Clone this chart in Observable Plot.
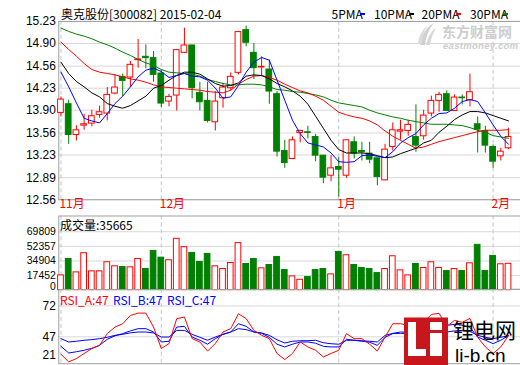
<!DOCTYPE html>
<html><head><meta charset="utf-8">
<script src="https://cdn.jsdelivr.net/npm/d3@7"></script>
<script src="https://cdn.jsdelivr.net/npm/@observablehq/plot@0.6"></script>
<style>
body{margin:0;background:#fff;}
#wrap{position:relative;width:520px;height:365px;overflow:hidden;font-family:"Noto Sans CJK SC","Noto Sans",sans-serif;background:#fff;}
#wrap > svg{position:absolute;left:0;overflow:visible;}
.t{position:absolute;font-size:12px;line-height:12px;white-space:nowrap;color:#000;}
.dash{position:absolute;width:5px;height:2px;}
</style></head><body><div id="wrap"></div>
<script>
const dates = ["2014-11-12","2014-11-13","2014-11-14","2014-11-17","2014-11-18","2014-11-19","2014-11-20","2014-11-21","2014-11-24","2014-11-25","2014-11-26","2014-11-27","2014-11-28","2014-12-01","2014-12-02","2014-12-03","2014-12-04","2014-12-05","2014-12-08","2014-12-09","2014-12-10","2014-12-11","2014-12-12","2014-12-15","2014-12-16","2014-12-17","2014-12-18","2014-12-19","2014-12-22","2014-12-23","2014-12-24","2014-12-25","2014-12-26","2014-12-29","2014-12-30","2014-12-31","2015-01-05","2015-01-06","2015-01-07","2015-01-08","2015-01-09","2015-01-12","2015-01-13","2015-01-14","2015-01-15","2015-01-16","2015-01-19","2015-01-20","2015-01-21","2015-01-22","2015-01-23","2015-01-26","2015-01-27","2015-01-28","2015-01-29","2015-01-30","2015-02-02","2015-02-03","2015-02-04"];
const open = [13.86,13.99,13.53,13.67,13.70,13.83,13.85,14.15,14.40,14.39, 14.65,14.70,14.68,14.45,14.03,14.12,14.76,14.87,14.16,14.04, 13.72,14.08,14.23,14.46,15.10,14.76,14.54,14.51,14.14,13.29, 13.17,13.56,13.57,13.50,13.22,12.92,13.05,12.92,13.42,13.29, 13.25,13.18,12.85,13.35,13.58,13.59,13.50,13.51,13.85,14.04, 14.14,13.89,14.09,14.05,13.69,13.59,13.35,13.21,13.33];
const high = [14.10,14.05,13.67,13.84,13.90,13.96,14.24,14.43,14.44,14.63, 14.96,14.88,14.78,14.50,14.14,14.81,15.13,14.87,14.32,14.32, 14.18,14.30,14.46,15.08,15.16,14.90,14.70,14.65,14.18,13.45, 13.50,13.60,13.66,13.54,13.22,13.22,13.19,13.45,13.50,13.42, 13.42,13.18,13.39,13.71,13.75,13.75,13.98,13.90,14.11,14.17, 14.19,14.13,14.13,14.44,13.80,13.66,13.38,13.33,13.63];
const low = [13.80,13.39,13.44,13.60,13.65,13.78,13.74,14.13,14.10,14.24, 14.53,14.52,14.32,13.94,13.95,13.89,14.75,14.07,13.89,13.71, 13.59,13.93,14.19,14.43,14.85,14.36,14.40,13.99,13.20,13.03, 13.16,13.41,13.47,13.13,12.80,12.83,12.60,12.88,13.17,13.14, 13.10,12.77,12.85,13.29,13.45,13.51,13.27,13.45,13.80,13.87, 13.88,13.88,13.98,13.95,13.26,13.26,13.03,13.14,13.31];
const close = [14.06,13.53,13.60,13.69,13.81,13.87,14.13,14.24,14.34,14.58, 14.66,14.68,14.43,14.00,14.10,14.80,14.87,14.23,14.02,13.74, 14.03,14.24,14.40,15.07,14.91,14.53,14.55,14.18,13.28,13.11, 13.45,13.59,13.56,13.22,12.89,13.03,13.01,13.45,13.25,13.27, 13.16,12.90,13.31,13.60,13.60,13.68,13.37,13.82,14.04,14.13, 13.89,14.09,14.08,14.17,13.61,13.37,13.13,13.28,13.50];
const ma5 = [14.47,14.25,14.01,13.78,13.74,13.71,13.85,14.00,14.11,14.25, 14.40,14.50,14.53,14.48,14.39,14.42,14.45,14.41,14.40,14.35, 14.23,14.08,14.10,14.27,14.47,14.62,14.69,14.65,14.35,14.05, 13.75,13.55,13.41,13.38,13.35,13.26,13.13,13.12,13.13,13.22, 13.23,13.21,13.19,13.28,13.41,13.49,13.55,13.68,13.78,13.85, 13.86,13.93,14.03,14.06,14.03,13.86,13.68,13.51,13.39];
const ma10 = [14.62,14.45,14.33,14.25,14.16,14.10,14.00,13.96,13.93,13.97, 14.04,14.11,14.23,14.27,14.35,14.42,14.47,14.47,14.44,14.37, 14.30,14.26,14.27,14.31,14.41,14.43,14.42,14.37,14.30,14.25, 14.19,14.11,13.99,13.81,13.63,13.45,13.31,13.26,13.26,13.26, 13.25,13.22,13.19,13.20,13.25,13.29,13.33,13.41,13.45,13.57, 13.66,13.76,13.83,13.88,13.88,13.86,13.82,13.78,13.74];
const ma20 = [14.92,14.81,14.71,14.60,14.51,14.47,14.45,14.43,14.40,14.37, 14.35,14.32,14.28,14.25,14.24,14.23,14.22,14.21,14.20,14.18, 14.17,14.16,14.20,14.29,14.36,14.41,14.42,14.39,14.35,14.29, 14.24,14.19,14.16,14.11,14.05,13.96,13.87,13.83,13.80,13.78, 13.74,13.68,13.59,13.51,13.45,13.39,13.33,13.35,13.39,13.43, 13.46,13.49,13.52,13.55,13.58,13.60,13.60,13.60,13.61];
const ma30 = [15.13,15.08,15.04,15.01,14.97,14.92,14.88,14.83,14.77,14.72, 14.66,14.61,14.57,14.51,14.47,14.46,14.45,14.44,14.41,14.36, 14.33,14.30,14.28,14.28,14.29,14.29,14.28,14.25,14.21,14.20, 14.18,14.17,14.15,14.13,14.10,14.05,14.01,13.99,13.97,13.95, 13.90,13.86,13.83,13.80,13.78,13.75,13.73,13.71,13.69,13.69, 13.69,13.68,13.67,13.64,13.60,13.57,13.52,13.50,13.48];
const volume = [17690,37310,21300,44170,22500,22500,33340,28530,27680,27320, 37310,25280,46940,38880,35750,61380,51390,44530,33700,43330, 28530,25280,32500,56210,31290,37310,26120,30090,39720,24070, 16490,12400,15650,24070,25280,18900,45740,41770,30090,26480, 25280,20460,25280,40560,23710,17690,31290,26480,33340,26480, 22870,25280,22870,32140,54160,22870,40920,30930,31500];
const rsiA = [32.9,26.7,29.4,33.5,37.5,40.1,49.6,54.9,57.6,64.3, 66.2,66.2,54.9,37.5,41.5,61.7,63.0,45.5,42.8,35.5, 41.5,50.9,53.6,65.7,61.7,52.2,48.2,45.5,33.5,28.6, 33.5,42.8,38.8,36.1,30.7,33.5,36.1,49.6,45.5,45.5, 41.0,35.5,46.8,57.6,57.6,56.3,49.0,58.7,65.1,66.0, 55.5,60.3,58.7,61.9,46.6,38.8,33.5,38.8,48.0];
const rsiB = [39.3,33.9,34.9,36.1,37.7,40.1,45.0,47.8,49.6,51.8, 53.6,53.6,50.9,42.8,43.4,54.9,55.5,46.8,44.2,41.0, 45.5,49.0,50.9,57.6,55.5,50.9,49.8,46.6,41.0,38.8, 41.0,42.8,42.8,41.8,39.3,38.8,38.8,45.0,44.2,43.4, 42.6,40.1,46.6,49.6,49.8,49.8,49.8,53.9,56.3,57.1, 56.3,57.1,56.3,54.7,46.8,44.2,41.5,44.2,48.0];
const rsiC = [45.5,42.8,43.4,44.2,44.7,45.5,46.6,48.2,49.0,50.2, 50.9,50.9,50.1,46.8,46.8,52.2,52.2,49.0,46.6,44.2, 46.8,49.0,50.9,53.6,52.8,50.9,50.1,48.2,44.6,42.0, 43.4,43.8,43.9,44.2,42.2,41.4,41.0,44.2,44.2,43.8, 43.4,42.8,48.2,49.8,50.9,50.6,50.6,51.0,51.4,51.8, 50.9,51.8,52.2,51.4,48.2,46.6,45.5,46.6,48.0];
const priceTicks = [12.56,12.89,13.23,13.56,13.90,14.23,14.56,14.90,15.23];
const volTicks = [17452,34904,52357,69809];
const rsiTicks = [47,72];
const monthStarts = ["2014-11-12","2014-12-01","2015-01-05","2015-02-02"];
const monthLabels = ["11月","12月","1月","2月"];
const maNames = ["5PMA","10PMA","20PMA","30PMA"];
const maColors = ["#0000ff","#000000","#ff0000","#008000"];

const UP = "#ff0000", DN = "#008000";
const FONT = '"Noto Sans CJK SC","Noto Sans",sans-serif';
const NUMFONT = '"Liberation Sans","DejaVu Sans",sans-serif';
const rows = dates.map((d,i)=>({i, date:d, o:open[i], h:high[i], l:low[i], c:close[i],
  ma5:ma5[i], ma10:ma10[i], ma20:ma20[i], ma30:ma30[i], v:volume[i],
  ra:rsiA[i], rb:rsiB[i], rc:rsiC[i], up: close[i] >= open[i]}));
const col = d => d.up ? UP : DN;
const fillc = d => d.up ? "#ffffff" : DN;
const monthRows = monthStarts.map((s,k)=>({i: dates.indexOf(s), label: monthLabels[k]}));
const X = {type:"linear", domain:[0, dates.length-1], range:[60.7, 510], axis:null};
const HW = 0.37;
const GRID = "#d8d8d8", FRAME = "#a0a0a0";
const common = {width:522, marginLeft:58.5, marginRight:0, x:X, color:{type:"identity"},
  style:{fontFamily:FONT, fontSize:"12px", background:"transparent", overflow:"visible"}};
const dashed = () => Plot.ruleX(monthRows, {x:"i", stroke:"#c4c4c4", strokeDasharray:"4,3"});

const price = Plot.plot({...common, height:215, marginTop:21, marginBottom:15,
  y:{domain:[12.56,15.23], axis:null},
  marks:[
    Plot.ruleY(priceTicks, {stroke:GRID}),
    dashed(),
    Plot.frame({stroke:FRAME}),
    Plot.axisY(priceTicks, {tickSize:0, tickPadding:3, tickFormat:d=>d.toFixed(2), fontSize:12, fontFamily:NUMFONT, label:null}),
    Plot.ruleX(rows, {x:"i", y1:"l", y2:"h", stroke:col}),
    Plot.rect(rows, {x1:d=>d.i-HW, x2:d=>d.i+HW, y1:"o", y2:"c", fill:fillc, stroke:col}),
    Plot.line(rows, {x:"i", y:"ma30", stroke:maColors[3], strokeWidth:1}),
    Plot.line(rows, {x:"i", y:"ma20", stroke:maColors[2], strokeWidth:1}),
    Plot.line(rows, {x:"i", y:"ma10", stroke:maColors[1], strokeWidth:1}),
    Plot.line(rows, {x:"i", y:"ma5", stroke:maColors[0], strokeWidth:1}),
    Plot.text(monthRows, {x:"i", text:"label", frameAnchor:"bottom", dy:8, dx:-1.5, textAnchor:"start", fill:UP, fontSize:12})
  ]});

const vol = Plot.plot({...common, height:75, marginTop:0.5, marginBottom:1,
  y:{domain:[0,69809], range:[75,16.3], axis:null},
  marks:[
    Plot.ruleY(volTicks, {stroke:GRID}),
    dashed(),
    Plot.frame({stroke:FRAME}),
    Plot.axisY(volTicks, {tickSize:0, tickPadding:3, tickFormat:d=>String(d), fontSize:10.5, fontFamily:NUMFONT, label:null}),
    Plot.text(["0"], {frameAnchor:"bottom-left", dx:-3, dy:1, textAnchor:"end", fontSize:10.5, fontFamily:NUMFONT}),
    Plot.rect(rows, {x1:d=>d.i-HW, x2:d=>d.i+HW, y1:0, y2:"v", fill:fillc, stroke:col})
  ]});

const rsi = Plot.plot({...common, height:76, marginTop:0, marginBottom:1.5,
  y:{domain:[47,72], range:[47.5,16.5], axis:null},
  marks:[
    Plot.ruleY(rsiTicks, {stroke:GRID}),
    dashed(),
    Plot.frame({stroke:FRAME}),
    Plot.axisY(rsiTicks, {tickSize:0, tickPadding:3, fontSize:12, fontFamily:NUMFONT, label:null}),
    Plot.text(["21"], {frameAnchor:"bottom-left", dx:-3, dy:-5, textAnchor:"end", fontSize:12, fontFamily:NUMFONT}),
    Plot.line(rows, {x:"i", y:"rc", stroke:"#0000ff", strokeWidth:1}),
    Plot.line(rows, {x:"i", y:"rb", stroke:"#0000ff", strokeWidth:1}),
    Plot.line(rows, {x:"i", y:"ra", stroke:"#ff0000", strokeWidth:1})
  ]});

const wrap = document.getElementById("wrap");
price.style.top = "0px"; vol.style.top = "215px"; rsi.style.top = "289px";
wrap.append(price, vol, rsi);

function label(text, left, top, color, extra) {
  const d = document.createElement("div");
  d.className = "t"; d.textContent = text;
  d.style.left = left + "px"; d.style.top = top + "px";
  if (color) d.style.color = color;
  if (extra) Object.assign(d.style, extra);
  wrap.append(d);
  return d;
}
label("奥克股份[300082] 2015-02-04", 61, 7.5);
const legendX = [331.5, 374, 421.5, 470];
const dashX = [360, 409, 456, 503];
maNames.forEach((n,k)=>{
  label(n, legendX[k], 8);
  const s = document.createElement("div"); s.className = "dash";
  s.style.left = dashX[k]+"px"; s.style.top = "13px"; s.style.background = maColors[k];
  wrap.append(s);
});
label("成交量:" + 35665, 60, 219);
label("RSI_A:" + 47, 60, 294, "#ff0000");
label("RSI_B:" + 47, 113, 294, "#0000ff");
label("RSI_C:" + 47, 167, 294, "#0000ff");

// watermarks
label("东方财富网", 442, 24, "#cdcdcd", {fontSize:"14px", lineHeight:"14px", fontWeight:"bold"});
label("eastmoney.com", 443, 40.5, "#cdcdcd", {fontSize:"9.5px", lineHeight:"9.5px", fontWeight:"bold", fontStyle:"italic", fontFamily:"'Liberation Sans',sans-serif", letterSpacing:"0.3px"});
const ns = "http://www.w3.org/2000/svg";
const em = document.createElementNS(ns, "svg");
em.setAttribute("width", 20); em.setAttribute("height", 26);
em.style.position = "absolute"; em.style.left = "417px"; em.style.top = "21px";
em.innerHTML = '<path d="M3 24 C5 14 9 6 17 2 C12 8 9 15 8 24 Z" fill="#d0d0d0"/><path d="M9 24 C11 16 14 10 19 7 C16 12 14 18 13 24 Z" fill="#d8d8d8"/><path d="M1 22 C2 15 5 9 10 5 C7 10 5 16 5 23 Z" fill="#dcdcdc"/>';
wrap.append(em);

const lb = document.createElementNS(ns, "svg");
lb.setAttribute("width", 46); lb.setAttribute("height", 48);
lb.style.position = "absolute"; lb.style.left = "403px"; lb.style.top = "317px";
lb.innerHTML = '<rect x="1" y="0.5" width="44" height="48" fill="#c8161d"/>' +
  '<rect x="5" y="5" width="8" height="34" fill="#fff"/>' +
  '<rect x="5" y="32" width="18" height="7" fill="#fff"/>' +
  '<rect x="27" y="5" width="12" height="34" fill="#fff"/>' +
  '<rect x="27" y="13" width="12" height="3" fill="#c8161d"/>';
wrap.append(lb);
label("锂电网", 453, 319, "#000", {fontSize:"21px", lineHeight:"21px"});
label("li-b.cn", 455, 345.5, "#000", {fontSize:"19px", lineHeight:"19px", fontFamily:"'Liberation Sans',sans-serif"});
</script></body></html>
